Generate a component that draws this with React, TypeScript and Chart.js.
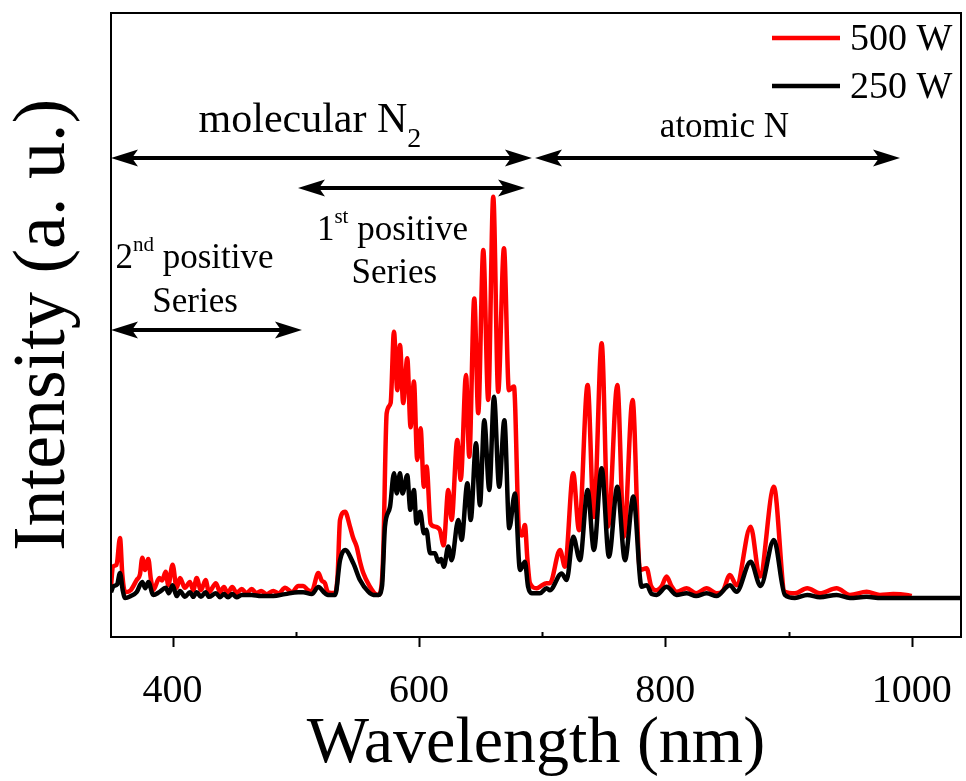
import React, { useEffect, useRef } from 'react';
import { Chart, registerables } from 'chart.js';

Chart.register(...registerables);

// ---------- data ----------
const wl500 = [
  350, 351.5, 354.5, 357.3, 359.2, 361.4, 366, 370.8, 373.5, 375.4, 377.6, 380.3, 382.3, 384.3,
  389.2, 391.5, 394.4, 396.5, 400, 403.3, 406, 410, 414.1, 416.8, 419.5, 423, 426.8, 429.5,
  435.2, 438.5, 441.7, 444.7, 448.4, 452, 456.1, 460, 464.2, 468, 471.8, 476, 481.8, 486,
  491.3, 497, 502, 506, 510, 513, 518.3, 521, 523.7, 526, 529, 532, 534, 535.9, 540, 544,
  546.5, 549.4, 552, 554.8, 560.2, 564, 567, 569.5, 571, 573.8, 577, 579.7, 582.4, 584.6,
  587.2, 590.5, 593.2, 595.9, 598.6, 601.3, 604, 606.2, 609.4, 613, 617, 620, 623.8, 626.5,
  631.1, 633.9, 638.2, 640.8, 644.9, 648.1, 652.2, 656.2, 660.3, 664.3, 669, 673, 677.1,
  681.2, 683.5, 686, 688, 690.1, 695.5, 698.2, 703.6, 706.3, 714.5, 718.5, 725.2, 729.9,
  736.9, 742, 748.3, 753.6, 761, 766.4, 773.4, 779.4, 784.8, 788.5, 792.9, 797, 801, 805,
  809.1, 817.3, 825, 833.5, 841.6, 847, 852.4, 857.8, 869.2, 876.7, 888.1, 897, 905.2,
  915.2, 925.5, 939, 949.8, 963.4, 974.2, 985, 995.8, 1000
];
const int500 = [
  3, 8, 8.5, 15.4, 6, 1.5, 2, 4.6, 6, 10.3, 7.2, 10, 5, 2,
  5.1, 4.5, 6.7, 3.3, 8.5, 2.6, 5.1, 2.6, 4.1, 2, 5.1, 2, 4.6, 1.5,
  3.8, 1.5, 2.8, 1.3, 2.8, 1.3, 2.3, 1.2, 2.3, 1.2, 1.8, 1.0, 1.8, 1.2,
  2.6, 1.5, 3.1, 3.1, 2, 1.8, 6.4, 4.5, 3.8, 1.5, 1.3, 1.3, 6, 20, 22.1, 18.3,
  15.5, 13.2, 9.5, 6.4, 2.9, 1.2, 0.8, 3, 11.5, 47.4, 50, 68.3, 53.3, 64.9,
  50, 61.5, 43.8, 55.5, 35.4, 43.5, 28.5, 33.7, 19.1, 18.3, 17.4, 13.5, 27.7, 20,
  40.5, 30.3, 57.2, 36.2, 76.8, 47.4, 89.2, 50.8, 102.9, 52.9, 89.7, 53.3, 54.2,
  17.4, 16, 18.7, 10, 3.8, 2.5, 2.9, 3.8, 3.8, 12.3, 8, 32, 17.4,
  54.6, 20.8, 65.3, 18.3, 54.6, 15.7, 50.8, 7.2, 7.6, 3, 2, 3, 5.5, 3,
  1.6, 2.5, 1.2, 2.5, 1.2, 2, 5.9, 3.3, 18.3, 5.5, 28.5, 1.6, 1.2,
  2.5, 1.2, 2.5, 0.8, 1.6, 0.8, 1, 0.8, 0.5
];
const wl250 = [
  350, 352, 355, 357.3, 359.5, 361.4, 366, 370.8, 375.4, 377.8, 380.3, 384.3, 389.2, 394.4,
  397, 400, 403.3, 406, 410, 414.1, 416.8, 419.5, 423, 426.8, 429.5, 435.2, 438.5, 441.7,
  445, 448.4, 452, 456.1, 464.2, 471.8, 481.8, 491.3, 502, 506, 513, 518.3, 523.7, 526,
  532, 535.9, 540, 546.7, 552.1, 558.9, 563, 567, 570, 572.4, 576.5, 579.7, 582, 584.6,
  586.6, 590.5, 593, 595.9, 598, 601, 604, 606, 609, 613, 615.7, 618, 620.2, 623.8, 626.5,
  631.9, 634.6, 639.3, 642, 646.3, 649.5, 653, 657.1, 660.9, 665.1, 669.3, 673.3, 677.9,
  682, 686, 688.5, 691.5, 695.5, 698.2, 703.6, 706.3, 715.8, 719.9, 725.2, 730.7, 736.9,
  742, 748.3, 754.2, 761, 767.2, 774, 780.7, 784.8, 789, 792.9, 801, 809.1, 817.3, 825,
  833.5, 841.6, 852.4, 857.8, 869.2, 877.3, 888.1, 897, 905.2, 915.2, 925.5, 939, 949.8,
  963.4, 975, 1000, 1040
];
const int250 = [
  1.5, 3, 3.5, 6.4, 2, 0, 0.5, 1.5, 4.1, 2.5, 4.1, 0.8, 1.5, 2.6,
  1.2, 3.3, 0.5, 1.8, 0.3, 1.5, 0.3, 1.5, 0.3, 1.5, 0.3, 1.2, 0.2, 1,
  0.2, 1, 0.2, 0.8, 0.8, 0.5, 0.5, 1, 1.5, 1.5, 1, 2.8, 1.2, 0.8,
  0.8, 9.7, 12.3, 8.9, 4.6, 1.6, 0.8, 0.8, 3, 18.3, 23.4, 32, 26.8, 32,
  26.8, 31.5, 22.6, 27.7, 19.1, 22.1, 16.6, 17.5, 11.5, 11.5, 9.3, 10, 8, 13.2, 9.7,
  20, 14.9, 29.4, 20, 39.7, 23.8, 45.6, 27.7, 51.6, 28.5, 45.6, 17.9, 26.8,
  7.2, 9.3, 3, 1.2, 1.2, 1.2, 2.5, 2, 6.3, 4.6, 15.7, 9.7, 27.7,
  12.3, 33.3, 10.6, 28.5, 9.7, 26, 2.9, 3.3, 1, 0.8, 2.9, 0.8, 1.2, 0.5,
  1.2, 0.5, 3.3, 1.6, 9.3, 3.1, 14.9, 0.8, 0, 0.8, 0.2, 0.8, 0,
  0.3, 0, 0, 0
];
const seriesLabels = ['500 W', '250 W'];
const seriesColors = ['#ff0000', '#000000'];
const xTicks = [400, 600, 800, 1000];
const xMinorTicks = [500, 700, 900];
const xRange = [350, 1040];
const yRange = [-10, 150];
const xTitle = 'Wavelength (nm)';
const yTitle = 'Intensity (a. u.)';

// ---------- annotations (data units) ----------
const arrows = [
  { x1: 350, x2: 691.7, y: 112.8 },
  { x1: 694.2, x2: 990.5, y: 112.8 },
  { x1: 501.8, x2: 686.1, y: 105.1 },
  { x1: 350, x2: 505, y: 68.7 },
];
type Seg = { t: string; size: number; dy: number };
const labels: { x: number; y: number; segs: Seg[] }[] = [
  { x: 511.5, y: 119.5, segs: [{ t: 'molecular N', size: 42, dy: 0 }, { t: '2', size: 28, dy: 15 }] },
  { x: 848, y: 118.2, segs: [{ t: 'atomic N', size: 35, dy: 0 }] },
  { x: 578.5, y: 91.8, segs: [{ t: '1', size: 35, dy: 0 }, { t: 'st', size: 21, dy: -17 }, { t: ' positive', size: 35, dy: 0 }] },
  { x: 580, y: 80.8, segs: [{ t: 'Series', size: 35, dy: 0 }] },
  { x: 417.8, y: 84.6, segs: [{ t: '2', size: 35, dy: 0 }, { t: 'nd', size: 21, dy: -17 }, { t: ' positive', size: 35, dy: 0 }] },
  { x: 418.2, y: 73.4, segs: [{ t: 'Series', size: 35, dy: 0 }] },
];

const FONT = "'Liberation Serif', 'Times New Roman', Times, serif";

function drawHead(ctx: CanvasRenderingContext2D, tipX: number, y: number, dir: number) {
  const L = 27, W = 8.5, N = 6;
  ctx.beginPath();
  ctx.moveTo(tipX, y);
  ctx.lineTo(tipX + dir * L, y - W);
  ctx.lineTo(tipX + dir * (L - N), y);
  ctx.lineTo(tipX + dir * L, y + W);
  ctx.closePath();
  ctx.fill();
}

const decor = {
  id: 'decor',
  afterDatasetsDraw(chart: any) {
    const { ctx, chartArea: ca, scales } = chart;
    const x = scales.x, y = scales.y;
    ctx.save();
    ctx.strokeStyle = '#000';
    ctx.fillStyle = '#000';
    // frame
    ctx.lineWidth = 2;
    ctx.strokeRect(ca.left, ca.top, ca.right - ca.left, ca.bottom - ca.top);
    // ticks
    ctx.beginPath();
    xTicks.forEach((v) => {
      const p = Math.round(x.getPixelForValue(v)) + 0.5;
      ctx.moveTo(p, ca.bottom);
      ctx.lineTo(p, ca.bottom + 10);
    });
    xMinorTicks.forEach((v) => {
      const p = Math.round(x.getPixelForValue(v)) + 0.5;
      ctx.moveTo(p, ca.bottom);
      ctx.lineTo(p, ca.bottom - 5);
    });
    ctx.stroke();
    // arrows
    arrows.forEach((a) => {
      const x1 = x.getPixelForValue(a.x1);
      const x2 = x.getPixelForValue(a.x2);
      const py = y.getPixelForValue(a.y);
      ctx.lineWidth = 4;
      ctx.beginPath();
      ctx.moveTo(x1 + 15, py);
      ctx.lineTo(x2 - 15, py);
      ctx.stroke();
      drawHead(ctx, x1, py, 1);
      drawHead(ctx, x2, py, -1);
    });
    // labels
    ctx.textBaseline = 'alphabetic';
    ctx.textAlign = 'left';
    labels.forEach((lb) => {
      let total = 0;
      lb.segs.forEach((s) => {
        ctx.font = `${s.size}px ${FONT}`;
        total += ctx.measureText(s.t).width;
      });
      let cx = x.getPixelForValue(lb.x) - total / 2;
      const by = y.getPixelForValue(lb.y);
      lb.segs.forEach((s) => {
        ctx.font = `${s.size}px ${FONT}`;
        ctx.fillText(s.t, cx, by + s.dy);
        cx += ctx.measureText(s.t).width;
      });
    });
    // legend
    const lx1 = ca.right - 189, lx2 = ca.right - 121;
    seriesLabels.forEach((name, i) => {
      const ly = ca.top + 25 + i * 48;
      ctx.strokeStyle = seriesColors[i];
      ctx.lineWidth = 4.5;
      ctx.beginPath();
      ctx.moveTo(lx1, ly);
      ctx.lineTo(lx2, ly);
      ctx.stroke();
      ctx.fillStyle = '#000';
      ctx.font = `38px ${FONT}`;
      ctx.textBaseline = 'middle';
      ctx.fillText(name, ca.right - 111, ly + 2);
    });
    ctx.restore();
  },
};

export default function App() {
  const ref = useRef<HTMLCanvasElement>(null);
  useEffect(() => {
    if (!ref.current) return;
    const chart = new Chart(ref.current, {
      type: 'line',
      data: {
        datasets: [
          {
            label: seriesLabels[0],
            data: wl500.map((w, i) => ({ x: w, y: int500[i] })),
            borderColor: seriesColors[0],
            borderWidth: 4.5,
            pointRadius: 0,
            cubicInterpolationMode: 'monotone',
            order: 1,
          },
          {
            label: seriesLabels[1],
            data: wl250.map((w, i) => ({ x: w, y: int250[i] })),
            borderColor: seriesColors[1],
            borderWidth: 4.5,
            pointRadius: 0,
            cubicInterpolationMode: 'monotone',
            order: 0,
          },
        ],
      },
      options: {
        responsive: false,
        animation: false,
        devicePixelRatio: 1,
        layout: { padding: { top: 13, right: 5, left: 0, bottom: 0 } },
        plugins: { legend: { display: false }, tooltip: { enabled: false } },
        scales: {
          x: {
            type: 'linear',
            min: xRange[0],
            max: xRange[1],
            grid: { display: false, drawTicks: true, tickLength: 30 },
            border: { display: false },
            afterBuildTicks: (s: any) => {
              s.ticks = xTicks.map((v) => ({ value: v }));
            },
            afterFit: (s: any) => {
              s.height = 144;
            },
            ticks: {
              autoSkip: false,
              maxRotation: 0,
              padding: 0,
              color: '#000',
              font: { family: FONT, size: 40 },
              callback: (v: any) => String(v),
            },
            title: {
              display: true,
              text: xTitle,
              color: '#000',
              font: { family: FONT, size: 66, lineHeight: 1.0 },
              padding: { top: 0, bottom: 3 },
            },
          },
          y: {
            type: 'linear',
            min: yRange[0],
            max: yRange[1],
            grid: { display: false, drawTicks: false },
            border: { display: false },
            ticks: { display: false },
            afterFit: (s: any) => {
              s.width = 111;
            },
            title: {
              display: true,
              text: yTitle,
              color: '#000',
              font: { family: FONT, size: 74, lineHeight: 1.0 },
              padding: { top: 8, bottom: 0 },
            },
          },
        },
      },
      plugins: [decor],
    } as any);
    return () => chart.destroy();
  }, []);
  return (
    <div style={{ position: 'fixed', left: 0, top: 0, width: 966, height: 781, background: '#fff' }}>
      <canvas ref={ref} width={966} height={781} style={{ display: 'block' }} />
    </div>
  );
}
